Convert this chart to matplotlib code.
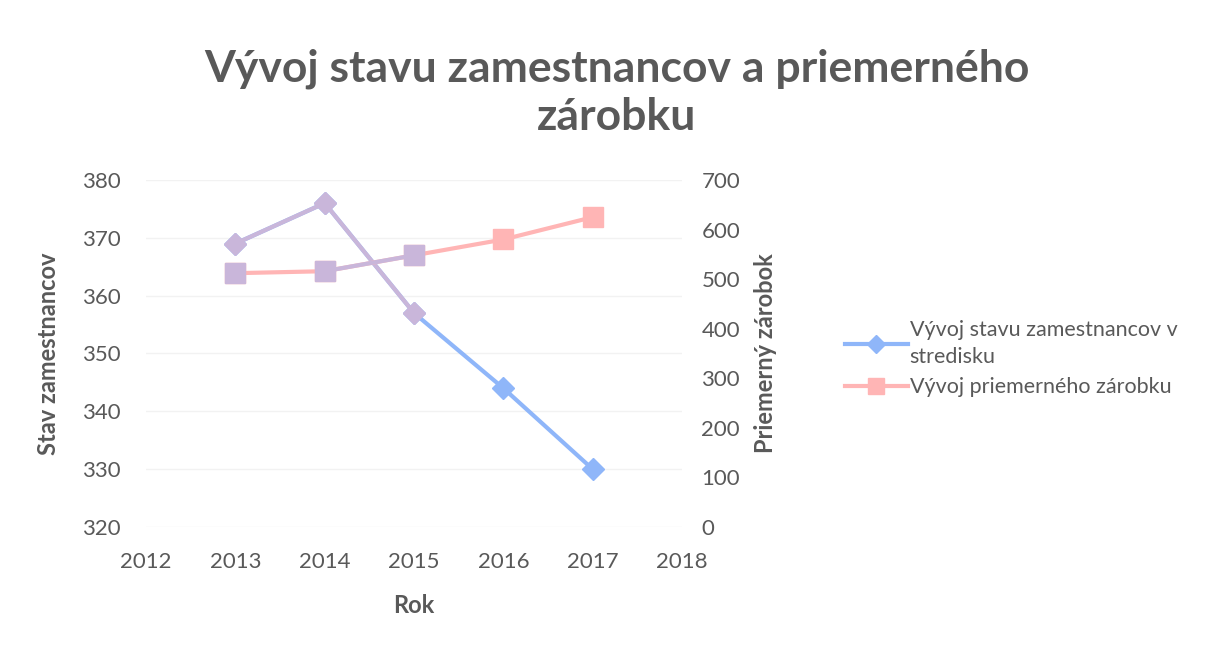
import matplotlib.pyplot as plt

# data
years = [2013, 2014, 2015, 2016, 2017]
employees = [369, 376, 357, 344, 330]
avg_wage = [512, 516, 548, 580, 625]
labels = ['Vývoj stavu zamestnancov v\nstredisku', 'Vývoj priemerného zárobku']

blue = '#8fb6f9'
pink = '#ffb5b5'
purple = '#c9b6da'
grey = '#595959'

plt.rcParams['font.family'] = ['Lato', 'DejaVu Sans']

fig = plt.figure(figsize=(12.09, 6.47), dpi=100)
ax = fig.add_axes([0.1208, 0.1855, 0.4433, 0.5363])
ax2 = ax.twinx()

ax.plot(years, employees, color=blue, lw=3, marker='D', ms=11, zorder=3, label=labels[0])
ax2.plot(years, avg_wage, color=pink, lw=3, marker='s', ms=14, zorder=3, label=labels[1])

# overlap tint seen in the reference (first points shown purple)
ax.plot(years[:3], employees[:3], color=purple, lw=3, marker='D', ms=11, zorder=4)
ax2.plot(years[1:3], avg_wage[1:3], color=purple, lw=3, marker='s', ms=14, zorder=4)
ax2.plot(years[:1], avg_wage[:1], color=purple, lw=0, marker='s', ms=14, zorder=4)

ax.set_xlim(2012, 2018)
ax.set_ylim(320, 380)
ax2.set_ylim(0, 700)
ax.set_xticks(range(2012, 2019))
ax.set_yticks(range(320, 381, 10))
ax2.set_yticks(range(0, 701, 100))

ax.grid(axis='y', color='#f2f2f2', lw=1)
for a in (ax, ax2):
    for s in a.spines.values():
        s.set_visible(False)
    a.tick_params(length=0, labelsize=16, labelcolor=grey, pad=12)
ax.tick_params(axis='x', pad=18)
ax.tick_params(axis='y', pad=18)
ax2.tick_params(axis='y', pad=14)

ax.set_xlabel('Rok', fontsize=17, fontweight='bold', color=grey, labelpad=16)
ax.set_ylabel('Stav zamestnancov', fontsize=17, fontweight='bold', color=grey, labelpad=16)
ax2.set_ylabel('Priemerný zárobok', fontsize=17, fontweight='bold', color=grey, labelpad=10)

fig.suptitle('Vývoj stavu zamestnancov a priemerného\nzárobku', x=0.51, y=0.925,
             fontsize=32, fontweight='bold', color=grey, linespacing=1.25)

h1, l1 = ax.get_legend_handles_labels()
h2, l2 = ax2.get_legend_handles_labels()
leg = fig.legend(h1 + h2, l1 + l2, loc='upper left', bbox_to_anchor=(0.683, 0.535),
                 frameon=False, fontsize=15.5, handlelength=2.9, handletextpad=0.1,
                 labelspacing=0.45, markerscale=0.8)
for t in leg.get_texts():
    t.set_color(grey)
    t.set_linespacing(1.45)

fig.savefig('out.png', dpi=100)
